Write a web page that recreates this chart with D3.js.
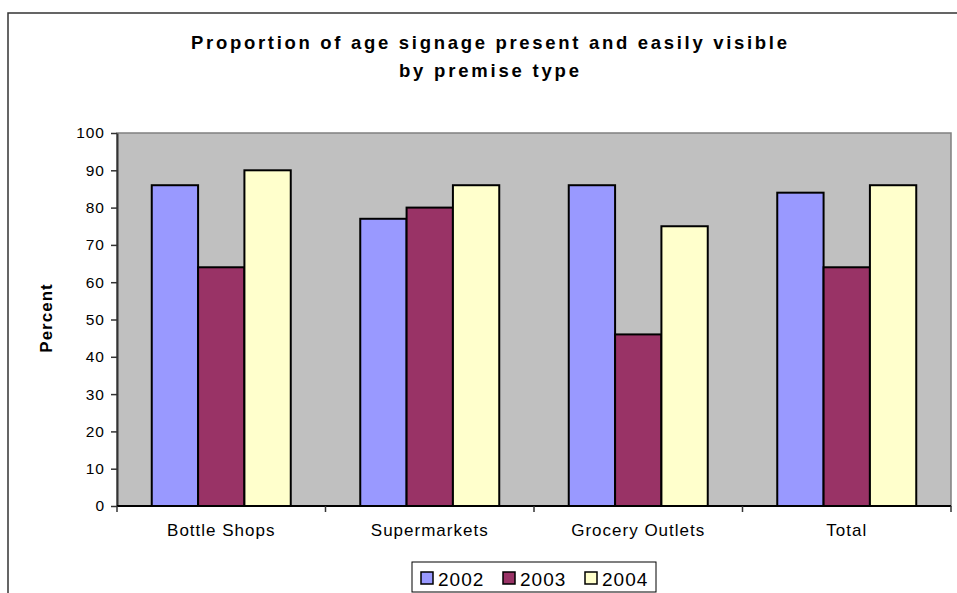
<!DOCTYPE html>
<html>
<head>
<meta charset="utf-8">
<script src="https://cdn.jsdelivr.net/npm/d3@7"></script>
<style>
  html, body { margin: 0; padding: 0; background: #fff; }
  svg { display: block; font-family: "Liberation Sans", Arial, sans-serif; }
</style>
</head>
<body>
<div id="chart"></div>
<script>
// chart data
var categories = ["Bottle Shops", "Supermarkets", "Grocery Outlets", "Total"];
var years = ["2002", "2003", "2004"];
var values2002 = [86, 77, 86, 84];
var values2003 = [64, 80, 46, 64];
var values2004 = [90, 86, 75, 86];
var yTicks = [0, 10, 20, 30, 40, 50, 60, 70, 80, 90, 100];
var titleLines = ["Proportion of age signage present and easily visible", "by premise type"];

var seriesColors = { "2002": "#9999ff", "2003": "#993366", "2004": "#ffffcc" };
var seriesValues = { "2002": values2002, "2003": values2003, "2004": values2004 };

var width = 957, height = 593;
var plot = { left: 117, right: 951, top: 133, bottom: 506 };

var svg = d3.select("#chart").append("svg")
    .attr("width", width)
    .attr("height", height);

// outer chart border (right and bottom edges run off the picture)
svg.append("rect")
    .attr("x", 8).attr("y", 13)
    .attr("width", 970).attr("height", 600)
    .attr("fill", "#fff")
    .attr("stroke", "#333")
    .attr("stroke-width", 1.5);

// title, stretched to the measured widths
var titleWidths = [596, 180];
svg.selectAll("text.title")
    .data(titleLines)
  .enter().append("text")
    .attr("class", "title")
    .attr("x", 489)
    .attr("y", function(d, i) { return 49 + i * 28; })
    .attr("text-anchor", "middle")
    .attr("textLength", function(d, i) { return titleWidths[i]; })
    .attr("lengthAdjust", "spacing")
    .style("font-size", "18.5px")
    .style("font-weight", "bold")
    .text(function(d) { return d; });

var x0 = d3.scaleBand()
    .domain(categories)
    .range([plot.left, plot.right])
    .padding(0);

var x1 = d3.scaleBand()
    .domain(years)
    .range([0, x0.bandwidth()])
    .paddingInner(0)
    .paddingOuter(0.75);

var y = d3.scaleLinear()
    .domain([0, 100])
    .range([plot.bottom, plot.top]);

// plot background
svg.append("rect")
    .attr("x", plot.left).attr("y", plot.top)
    .attr("width", plot.right - plot.left)
    .attr("height", plot.bottom - plot.top)
    .attr("fill", "#c0c0c0")
    .attr("stroke", "#808080")
    .attr("stroke-width", 1.5);

// bars
var rows = [];
categories.forEach(function(c, i) {
  years.forEach(function(yr) {
    rows.push({ category: c, year: yr, value: seriesValues[yr][i] });
  });
});

svg.append("g").selectAll("rect")
    .data(rows)
  .enter().append("rect")
    .attr("x", function(d) { return x0(d.category) + x1(d.year); })
    .attr("y", function(d) { return y(d.value); })
    .attr("width", x1.bandwidth())
    .attr("height", function(d) { return y(0) - y(d.value); })
    .attr("fill", function(d) { return seriesColors[d.year]; })
    .attr("stroke", "#000")
    .attr("stroke-width", 2);

// y axis
var yAxis = svg.append("g")
    .attr("transform", "translate(" + plot.left + ",0)")
    .call(d3.axisLeft(y).tickValues(yTicks).tickSize(6).tickPadding(6).tickSizeOuter(0));
yAxis.select(".domain").attr("stroke", "#333").attr("stroke-width", 2);
yAxis.selectAll(".tick line").attr("stroke", "#333").attr("stroke-width", 1.5);
yAxis.selectAll(".tick text")
    .attr("fill", "#000")
    .style("font-size", "15.5px")
    .style("letter-spacing", "1px")
    .style("font-family", "'Liberation Sans', Arial, sans-serif");

// x axis: ticks sit on the category boundaries
var boundaries = categories.map(function(c) { return x0(c); }).concat([plot.right]);
var xAxis = svg.append("g")
    .attr("transform", "translate(0," + plot.bottom + ")");
xAxis.append("line")
    .attr("x1", plot.left).attr("x2", plot.right)
    .attr("stroke", "#000").attr("stroke-width", 2);
xAxis.selectAll("line.tick")
    .data(boundaries)
  .enter().append("line")
    .attr("class", "tick")
    .attr("x1", function(d) { return d; })
    .attr("x2", function(d) { return d; })
    .attr("y1", 0).attr("y2", 6)
    .attr("stroke", "#333").attr("stroke-width", 1.5);
xAxis.selectAll("text")
    .data(categories)
  .enter().append("text")
    .attr("x", function(d) { return x0(d) + x0.bandwidth() / 2; })
    .attr("y", 30)
    .attr("text-anchor", "middle")
    .style("font-size", "17px")
    .style("letter-spacing", "1px")
    .text(function(d) { return d; });

// y axis title
svg.append("text")
    .attr("transform", "translate(52,318) rotate(-90)")
    .attr("text-anchor", "middle")
    .style("font-size", "17px")
    .style("font-weight", "bold")
    .style("letter-spacing", "1px")
    .text("Percent");

// legend
var legend = svg.append("g");
legend.append("rect")
    .attr("x", 412).attr("y", 562)
    .attr("width", 244).attr("height", 30)
    .attr("fill", "#fff")
    .attr("stroke", "#000")
    .attr("stroke-width", 1);

var legendX = d3.scalePoint()
    .domain(years)
    .range([421, 585]);

var item = legend.selectAll("g.item")
    .data(years)
  .enter().append("g")
    .attr("class", "item")
    .attr("transform", function(d) { return "translate(" + legendX(d) + ",572)"; });
item.append("rect")
    .attr("width", 12).attr("height", 12)
    .attr("fill", function(d) { return seriesColors[d]; })
    .attr("stroke", "#000")
    .attr("stroke-width", 1.5);
item.append("text")
    .attr("x", 17)
    .attr("y", 13.5)
    .style("font-size", "19px")
    .style("letter-spacing", "1px")
    .text(function(d) { return d; });
</script>
</body>
</html>
